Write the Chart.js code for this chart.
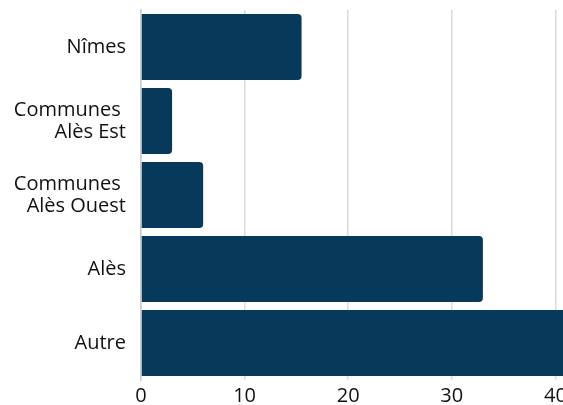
<!DOCTYPE html>
<html>
<head>
<meta charset="utf-8">
<script src="https://cdn.jsdelivr.net/npm/chart.js@4/dist/chart.umd.min.js"></script>
<style>
  html, body { margin: 0; padding: 0; background: #fff; overflow: hidden; }
  #wrap { position: relative; width: 680px; height: 405px; }
</style>
</head>
<body>
<div id="wrap"><canvas id="c"></canvas></div>
<script>
const categories = ["Nîmes", ["Communes ", "Alès Est"], ["Communes ", "Alès Ouest"], "Alès", "Autre"];
const values = [15.5, 3, 6, 33, 42.5];
const xTicks = [0, 10, 20, 30, 40, 50];

const barColor = '#073a5a';
const textColor = '#111111';
const fontFamily = "'Open Sans', 'Noto Sans', sans-serif";

new Chart(document.getElementById('c'), {
  type: 'bar',
  data: {
    labels: categories,
    datasets: [{
      data: values,
      backgroundColor: barColor,
      borderWidth: 0,
      borderRadius: 4,
      categoryPercentage: 1.0,
      barPercentage: 0.89
    }]
  },
  options: {
    indexAxis: 'y',
    responsive: true,
    maintainAspectRatio: false,
    animation: false,
    layout: { padding: { top: 10, right: 21, left: 0, bottom: 0 } },
    plugins: { legend: { display: false }, tooltip: { enabled: false } },
    scales: {
      x: {
        type: 'linear',
        min: xTicks[0],
        max: xTicks[xTicks.length - 1],
        afterBuildTicks: s => { s.ticks = xTicks.map(v => ({ value: v })); },
        afterFit: s => { s.height = 25; },
        grid: { color: '#dcdcdc', lineWidth: 1.5, drawTicks: false },
        border: { display: false },
        ticks: { color: textColor, font: { family: fontFamily, size: 20 }, padding: 4 }
      },
      y: {
        afterFit: s => { s.width = 141; s.paddingTop = 0; s.paddingBottom = 0; },
        grid: { display: false, drawTicks: false },
        border: { display: true, color: '#cccccc', width: 1.5 },
        ticks: { color: textColor, font: { family: fontFamily, size: 20, lineHeight: 1.1 }, padding: 15 }
      }
    }
  }
});
</script>
</body>
</html>
